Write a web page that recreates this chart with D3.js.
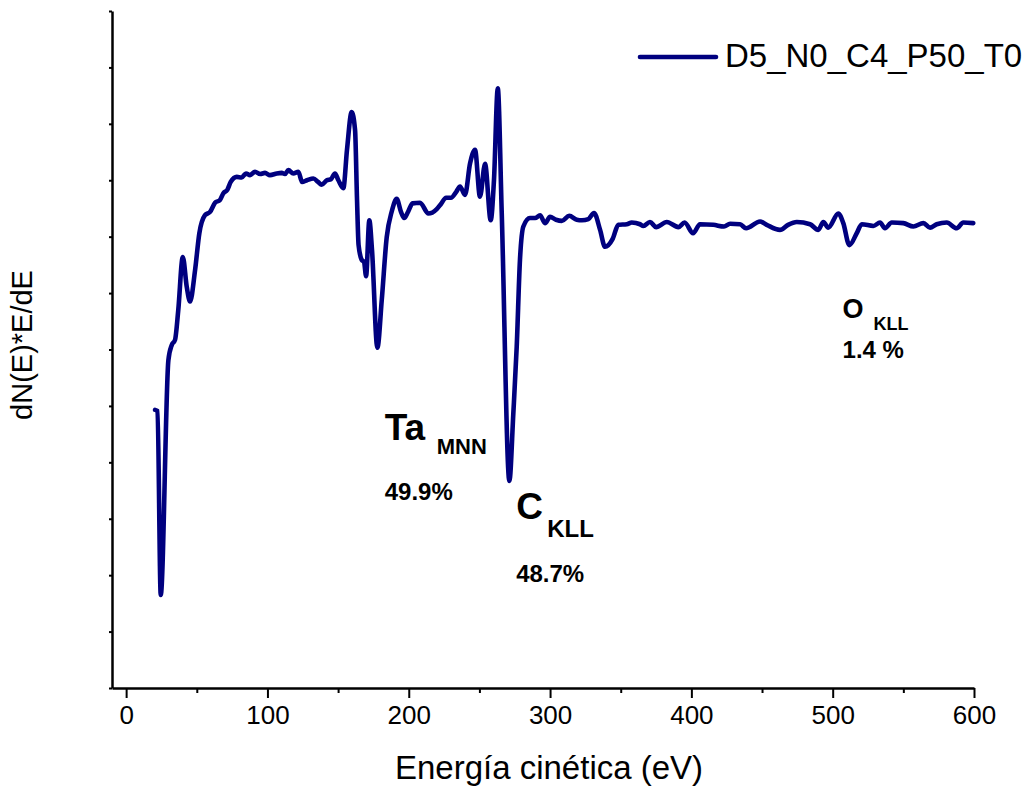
<!DOCTYPE html>
<html>
<head>
<meta charset="utf-8">
<script src="https://cdn.jsdelivr.net/npm/d3@7"></script>
<style>
  body { margin: 0; background: #fff; }
  text { font-family: "Liberation Sans", Arial, sans-serif; }
</style>
</head>
<body>
<div id="chart"></div>
<script>
// AES spectrum, energy in eV and derivative signal in arbitrary units
var energy = [20.5, 22.2, 24.5, 29.9, 32.3, 34.6, 36.9, 40.1, 42.9, 45.2, 48.8, 51.8, 55.8, 59.4,
    62.9, 66.4, 68.8, 71.6, 74.0, 78.3, 81.8, 84.8, 87.7, 91.2, 94.8, 98.3, 101.8, 106.6, 110.1,
    112.4, 114.8, 118.3, 121.9, 124.5, 128.0, 132.5, 135.8, 138.4, 142.0, 145.0, 147.8, 150.2,
    153.7, 156.3, 159.6, 162.0, 163.4, 164.5, 166.7, 168.4, 169.8, 172.1, 174.0, 177.8, 180.9,
    184.4, 188.0, 191.5, 194.5, 196.7, 199.5, 202.7, 208.0, 213.9, 219.8, 222.8, 226.4, 229.9,
    233.5, 236.3, 239.8, 243.4, 246.9, 250.4, 254.0, 258.0, 260.3, 263.0, 265.8, 271.2, 274.0,
    276.4, 278.7, 281.1, 285.8, 289.4, 292.9, 296.4, 300.0, 304.2, 308.3, 313.6, 318.9, 322.6,
    327.1, 331.1, 335.4, 338.9, 344.3, 348.3, 354.3, 357.8, 363.7, 366.0, 370.7, 375.0, 382.6,
    390.8, 395.2, 401.2, 406.1, 415.5, 423.1, 427.4, 434.4, 438.7, 448.6, 453.3, 462.7, 468.4,
    474.6, 484.0, 489.8, 493.4, 496.9, 504.0, 507.5, 511.8, 517.0, 520.6, 528.8, 533.5, 537.0,
    541.8, 550.0, 557.1, 564.2, 568.9, 573.6, 580.7, 587.8, 592.4, 599.5];
var signal = [4.93, 4.91, 1.65, 5.81, 6.08, 6.17, 6.70, 7.64, 7.11, 6.85, 7.41, 8.06, 8.38, 8.44,
    8.60, 8.65, 8.77, 8.83, 8.97, 9.06, 9.05, 9.12, 9.09, 9.15, 9.11, 9.13, 9.09, 9.12, 9.13,
    9.11, 9.18, 9.12, 9.15, 8.97, 9.00, 9.03, 8.97, 8.92, 9.00, 9.02, 9.12, 9.00,
    8.86, 9.54, 10.21, 9.89, 8.65, 7.85, 7.59, 7.55, 7.30, 8.29, 7.76, 6.03, 6.88,
    7.99, 8.45, 8.67, 8.44, 8.33, 8.44, 8.59, 8.60, 8.41, 8.49, 8.58, 8.69, 8.69,
    8.79, 8.89, 8.74, 9.30, 9.54, 8.71, 9.29, 8.29, 9.00, 10.63, 8.42, 3.67, 4.87,
    6.05, 7.59, 8.18, 8.33, 8.33, 8.38, 8.24, 8.35, 8.30, 8.28, 8.37, 8.30, 8.29,
    8.31, 8.42, 8.12, 7.82, 7.96, 8.21, 8.22, 8.25, 8.22, 8.19, 8.26, 8.17, 8.26,
    8.17, 8.25, 8.06, 8.22, 8.21, 8.18, 8.23, 8.22, 8.15, 8.27, 8.21, 8.12, 8.21,
    8.26, 8.22, 8.12, 8.26, 8.16, 8.41, 8.24, 7.85, 8.06, 8.22, 8.19, 8.25, 8.15,
    8.25, 8.24, 8.18, 8.24, 8.16, 8.22, 8.25, 8.15, 8.25, 8.24];

var xMajor = [0, 100, 200, 300, 400, 500, 600];
var xMinor = [50, 150, 250, 350, 450, 550];
var yTicks = d3.range(0, 13);
var seriesName = "D5_N0_C4_P50_T0";

// peak labels: element, transition, concentration
var peakEl = ["Ta", "C", "O"];
var peakSub = ["MNN", "KLL", "KLL"];
var peakPct = ["49.9%", "48.7%", "1.4 %"];

var width = 1029, height = 787;
var margin = {top: 11, right: 55, bottom: 99, left: 112};

var svg = d3.select("#chart").append("svg")
    .attr("width", width)
    .attr("height", height);

var x = d3.scaleLinear()
    .domain([-10, 600])
    .range([margin.left, width - margin.right]);

var y = d3.scaleLinear()
    .domain([0, 12])
    .range([height - margin.bottom, margin.top]);

// x axis, major ticks with labels
var xAxis = svg.append("g")
    .attr("transform", "translate(0," + y(0) + ")")
    .call(d3.axisBottom(x).tickValues(xMajor).tickSize(10).tickSizeOuter(0).tickPadding(8));
// minor ticks
svg.append("g")
    .attr("transform", "translate(0," + y(0) + ")")
    .call(d3.axisBottom(x).tickValues(xMinor).tickSize(5).tickSizeOuter(0).tickFormat(""))
    .select(".domain").remove();

xAxis.selectAll("text")
    .style("font-size", "26px")
    .attr("fill", "#000");

// y axis without labels
svg.append("g")
    .attr("transform", "translate(" + x(-10) + ",0)")
    .call(d3.axisLeft(y).tickValues(yTicks).tickSize(3).tickSizeOuter(0).tickFormat(""));

svg.selectAll(".domain").attr("stroke-width", 2.5).attr("stroke", "#000");
svg.selectAll(".tick line").attr("stroke-width", 2).attr("stroke", "#000");

// axis titles
svg.append("text")
    .attr("x", 549)
    .attr("y", 779)
    .attr("text-anchor", "middle")
    .style("font-size", "33px")
    .text("Energía cinética (eV)");

svg.append("text")
    .attr("transform", "translate(32,345) rotate(-90)")
    .attr("text-anchor", "middle")
    .style("font-size", "29px")
    .text("dN(E)*E/dE");

// spectrum
var line = d3.line()
    .x(function (d, i) { return x(energy[i]); })
    .y(function (d) { return y(d); })
    .curve(d3.curveMonotoneX);

svg.append("path")
    .datum(signal)
    .attr("fill", "none")
    .attr("stroke", "#00007f")
    .attr("stroke-width", 4.6)
    .attr("stroke-linejoin", "round")
    .attr("stroke-linecap", "round")
    .attr("d", line);

// legend
svg.append("line")
    .attr("x1", 640).attr("x2", 716)
    .attr("y1", 57).attr("y2", 57)
    .attr("stroke", "#00007f")
    .attr("stroke-width", 4.6)
    .attr("stroke-linecap", "round");
svg.append("text")
    .attr("x", 725)
    .attr("y", 67)
    .style("font-size", "33px")
    .text(seriesName);

// peak annotations (placed in energy / signal units)
var labelPos = [
    {e: 183, s: 4.4, big: 37, sub: 22, pct: 24, subDx: 52, subDy: 14, pctDy: 60},
    {e: 276, s: 3.0, big: 37, sub: 24, pct: 24, subDx: 31, subDy: 18, pctDy: 63},
    {e: 507, s: 6.55, big: 27, sub: 18, pct: 24, subDx: 31, subDy: 12, pctDy: 40}
];

var ann = svg.selectAll(".peak")
    .data(peakEl)
    .enter().append("g")
    .attr("class", "peak")
    .attr("transform", function (d, i) {
        return "translate(" + x(labelPos[i].e) + "," + y(labelPos[i].s) + ")";
    });

ann.append("text")
    .style("font-weight", "bold")
    .style("font-size", function (d, i) { return labelPos[i].big + "px"; })
    .text(function (d) { return d; });
ann.append("text")
    .attr("x", function (d, i) { return labelPos[i].subDx; })
    .attr("y", function (d, i) { return labelPos[i].subDy; })
    .style("font-weight", "bold")
    .style("font-size", function (d, i) { return labelPos[i].sub + "px"; })
    .text(function (d, i) { return peakSub[i]; });
ann.append("text")
    .attr("y", function (d, i) { return labelPos[i].pctDy; })
    .style("font-weight", "bold")
    .style("font-size", function (d, i) { return labelPos[i].pct + "px"; })
    .text(function (d, i) { return peakPct[i]; });
</script>
</body>
</html>
